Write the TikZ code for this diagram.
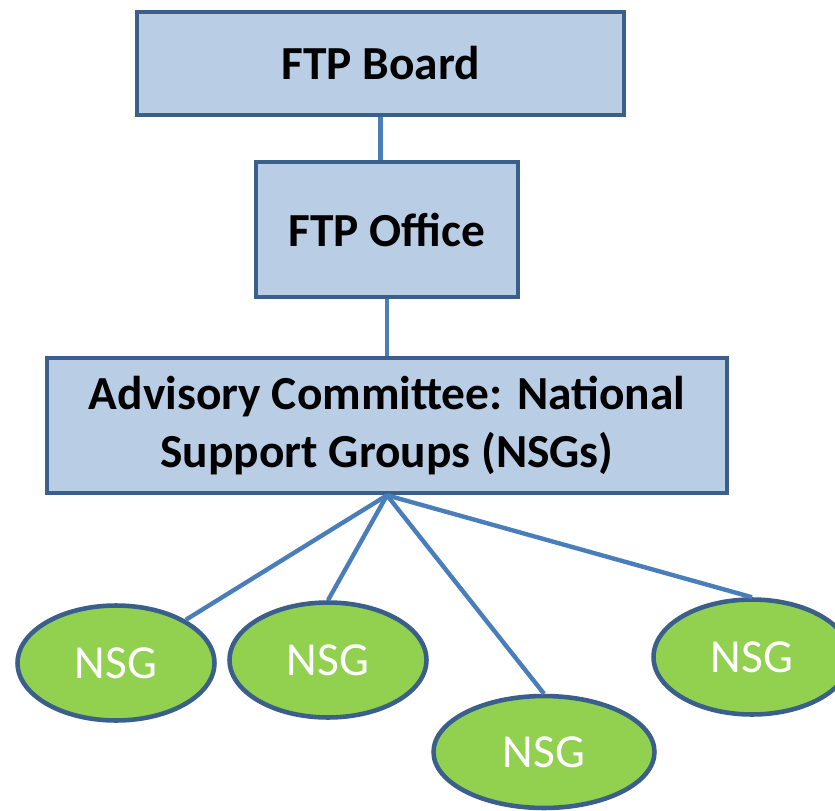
\documentclass[tikz,border=0pt]{standalone}
\usepackage{fontspec}
\setmainfont{Carlito}
\usetikzlibrary{shapes.geometric}
\definecolor{boxblue}{RGB}{185,205,229}
\definecolor{edgeblue}{RGB}{58,95,139}
\definecolor{linkblue}{RGB}{74,126,187}
\definecolor{nsggreen}{RGB}{146,208,80}

\begin{document}
\begin{tikzpicture}[x=0.02cm,y=-0.02cm,
    orgbox/.style={draw=edgeblue, fill=boxblue, line width=2.6pt, inner sep=0pt,
      align=center, font=\fontsize{27}{33}\selectfont\bfseries},
    nsg/.style={ellipse, draw=edgeblue, fill=nsggreen, line width=2.6pt, inner sep=0pt,
      minimum width=3.94cm, minimum height=2.3cm, text=white,
      font=\fontsize{27}{33}\selectfont},
    link/.style={linkblue, line width=2.5pt}]
    % Page size of the reference
    \useasboundingbox (0,0) rectangle (835,811);

    % The three boxes
    \node[orgbox, minimum width=9.74cm, minimum height=2.06cm] (board) at (380.5,63.5) {FTP Board};
    \node[orgbox, minimum width=5.24cm, minimum height=2.7cm] (office) at (387,229.5) {FTP Office};
    \node[orgbox, minimum width=13.6cm, minimum height=2.7cm] (advisory) at (387,425.5)
      {Advisory Committee: National\\Support Groups (NSGs)};

    % The national support groups
    \node[nsg] (nsga) at (116,663) {NSG};
    \node[nsg] (nsgb) at (328,660) {NSG};
    \node[nsg, minimum width=4.42cm, minimum height=2.24cm] (nsgc) at (544,752) {NSG};
    \node[nsg] (nsgd) at (752,657) {NSG};

    % Connectors
    \draw[link] (board.south) -- (board.south |- office.north);
    \draw[link] (office.south) -- (advisory.north);
    \draw[link] (advisory.south) -- (nsga);
    \draw[link] (advisory.south) -- (nsgb.north);
    \draw[link] (advisory.south) -- (nsgc.north);
    \draw[link] (advisory.south) -- (nsgd.north);
  \end{tikzpicture}
\end{document}
